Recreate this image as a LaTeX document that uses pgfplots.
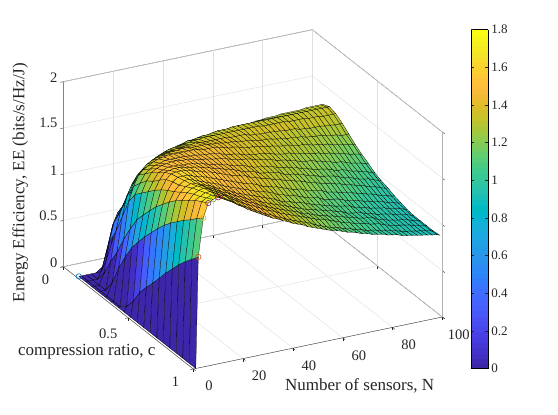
\documentclass[border=0pt]{standalone}
\usepackage{pgfplots}
\pgfplotsset{compat=1.18}
\usepackage{fontspec}
\setmainfont{Liberation Serif}
\pgfplotsset{colormap={parula}{
rgb=(0.2422,0.1504,0.6603) rgb=(0.2504,0.1650,0.7076) rgb=(0.2578,0.1818,0.7511) rgb=(0.2647,0.1978,0.7952)
rgb=(0.2706,0.2147,0.8364) rgb=(0.2751,0.2342,0.8710) rgb=(0.2783,0.2559,0.8991) rgb=(0.2803,0.2782,0.9221)
rgb=(0.2813,0.3006,0.9414) rgb=(0.2810,0.3228,0.9579) rgb=(0.2795,0.3447,0.9717) rgb=(0.2760,0.3667,0.9829)
rgb=(0.2699,0.3892,0.9906) rgb=(0.2602,0.4123,0.9952) rgb=(0.2440,0.4358,0.9988) rgb=(0.2206,0.4603,0.9973)
rgb=(0.1963,0.4847,0.9892) rgb=(0.1834,0.5074,0.9798) rgb=(0.1786,0.5289,0.9682) rgb=(0.1764,0.5499,0.9520)
rgb=(0.1687,0.5703,0.9359) rgb=(0.1540,0.5902,0.9218) rgb=(0.1460,0.6091,0.9079) rgb=(0.1380,0.6276,0.8973)
rgb=(0.1248,0.6459,0.8883) rgb=(0.1113,0.6635,0.8763) rgb=(0.0952,0.6798,0.8598) rgb=(0.0689,0.6948,0.8394)
rgb=(0.0297,0.7082,0.8163) rgb=(0.0036,0.7197,0.7917) rgb=(0.0067,0.7300,0.7660) rgb=(0.0433,0.7394,0.7394)
rgb=(0.0964,0.7500,0.7120) rgb=(0.1408,0.7584,0.6842) rgb=(0.1717,0.7670,0.6554) rgb=(0.1938,0.7758,0.6251)
rgb=(0.2161,0.7843,0.5923) rgb=(0.2470,0.7918,0.5567) rgb=(0.2906,0.7973,0.5188) rgb=(0.3406,0.8008,0.4789)
rgb=(0.3909,0.8029,0.4354) rgb=(0.4456,0.8024,0.3909) rgb=(0.5044,0.7993,0.3480) rgb=(0.5616,0.7942,0.3045)
rgb=(0.6174,0.7876,0.2612) rgb=(0.6720,0.7793,0.2227) rgb=(0.7242,0.7698,0.1910) rgb=(0.7738,0.7598,0.1646)
rgb=(0.8203,0.7498,0.1535) rgb=(0.8634,0.7406,0.1596) rgb=(0.9035,0.7330,0.1774) rgb=(0.9393,0.7288,0.2100)
rgb=(0.9728,0.7298,0.2394) rgb=(0.9956,0.7434,0.2371) rgb=(0.9970,0.7659,0.2199) rgb=(0.9952,0.7893,0.2028)
rgb=(0.9892,0.8136,0.1885) rgb=(0.9786,0.8386,0.1766) rgb=(0.9676,0.8639,0.1643) rgb=(0.9610,0.8890,0.1537)
rgb=(0.9597,0.9135,0.1423) rgb=(0.9628,0.9373,0.1265) rgb=(0.9691,0.9606,0.1064) rgb=(0.9769,0.9839,0.0805)
}}
\definecolor{axc}{gray}{0.15}
\definecolor{m1}{rgb}{0,0.447,0.741}
\definecolor{m2}{rgb}{0.85,0.325,0.098}
\definecolor{m3}{rgb}{0.929,0.694,0.125}
\definecolor{m4}{rgb}{0.494,0.184,0.556}
\definecolor{m5}{rgb}{0.466,0.674,0.188}
\definecolor{m6}{rgb}{0.635,0.078,0.184}
\begin{document}
\begin{tikzpicture}[x=1pt,y=1pt]
\path[use as bounding box] (0,0) rectangle (558,415);
\begin{axis}[
 at={(63.3pt,148.3pt)}, anchor=origin,
 x={(2.49pt,0.52pt)}, y={(-130pt,102.3pt)}, z={(0pt,92.5pt)},
 y dir=reverse,
 xmin=0,xmax=100,ymin=0,ymax=1,zmin=0,zmax=2,
 xtick={0,20,40,60,80,100}, ytick={0,0.5,1}, yticklabels={0,0.5,1}, ztick={0,0.5,1,1.5,2},
 zticklabels={0,0.5,1,1.5,2},
 xtick pos=left, ytick pos=left, ztick pos=left,
 grid=major, grid style={gray!25,line width=0.4pt},
 axis line style={axc!80,line width=0.5pt}, tick style={axc,line width=0.4pt},
 z axis line style={gray!60,line width=1pt},
 tick align=outside, major tick length=3pt,
 tick label style={text=axc,font=\fontsize{14.5}{14.5}\selectfont},
 /pgf/number format/assume math mode=true,
 xticklabel style={xshift=9pt,yshift=-6pt},
 yticklabel style={xshift=-8pt,yshift=-4pt},
 colormap name=parula, point meta min=0, point meta max=1.8,
 colormap access=piecewise constant,
 colorbar,
 colorbar style={at={(parent axis.north east)},anchor=north west,xshift=20pt,width=17pt,height=339pt,ytick={0,0.2,...,1.8},yticklabels={0,0.2,0.4,0.6,0.8,1,1.2,1.4,1.6,1.8},
   ylabel={},tick align=inside,major tick length=3pt,tick label style={font=\fontsize{13}{13}\selectfont,text=axc},/pgf/number format/assume math mode=true},
 xlabel={Number of sensors, N},ylabel={compression ratio, c},zlabel={Energy Efficiency, EE (bits/s/Hz/J)},
 label style={font=\fontsize{17}{17}\selectfont,text=axc},
 xlabel style={at={([xshift=2pt,yshift=-51pt]axis cs:66,1,0)},anchor=center,sloped=false,rotate=0},
 ylabel style={at={([yshift=-67pt]axis cs:0,0.18,0)},anchor=center,sloped=false,rotate=0},
 zlabel style={at={([xshift=-43pt]axis cs:0,0,0.91)},anchor=center,sloped=false,rotate=0},
]
\draw[axc!80,line width=0.5pt] (axis cs:0,0,0)--(axis cs:0,0,2);
\addplot3[surf,shader=flat corner,draw=black,line width=0.25pt,z buffer=sort,mesh/rows=19,mesh/cols=51] coordinates {
(1,0.1,0) (2,0.1,0) (4,0.1,0) (6,0.1,0) (8,0.1,0) (10,0.1,0) (12,0.1,0.11) (14,0.1,0.27) (16,0.1,0.42) (18,0.1,0.58) (20,0.1,0.71) (22,0.1,0.79) (24,0.1,0.86) (26,0.1,0.91) (28,0.1,0.97) (30,0.1,1.01) (32,0.1,1.04) (34,0.1,1.07) (36,0.1,1.09) (38,0.1,1.11) (40,0.1,1.13) (42,0.1,1.14) (44,0.1,1.16) (46,0.1,1.17) (48,0.1,1.19) (50,0.1,1.20) (52,0.1,1.21) (54,0.1,1.22) (56,0.1,1.23) (58,0.1,1.24) (60,0.1,1.25) (62,0.1,1.25) (64,0.1,1.26) (66,0.1,1.27) (68,0.1,1.27) (70,0.1,1.27) (72,0.1,1.28) (74,0.1,1.28) (76,0.1,1.29) (78,0.1,1.29) (80,0.1,1.29) (82,0.1,1.30) (84,0.1,1.30) (86,0.1,1.30) (88,0.1,1.30) (90,0.1,1.30) (92,0.1,1.31) (94,0.1,1.31) (96,0.1,1.31) (98,0.1,1.31) (99,0.1,1.31)
(1,0.15,0) (2,0.15,0) (4,0.15,0) (6,0.15,0) (8,0.15,0.12) (10,0.15,0.33) (12,0.15,0.55) (14,0.15,0.67) (16,0.15,0.72) (18,0.15,0.80) (20,0.15,0.88) (22,0.15,0.97) (24,0.15,1.05) (26,0.15,1.11) (28,0.15,1.16) (30,0.15,1.19) (32,0.15,1.21) (34,0.15,1.23) (36,0.15,1.24) (38,0.15,1.26) (40,0.15,1.27) (42,0.15,1.29) (44,0.15,1.29) (46,0.15,1.30) (48,0.15,1.31) (50,0.15,1.31) (52,0.15,1.32) (54,0.15,1.33) (56,0.15,1.33) (58,0.15,1.33) (60,0.15,1.34) (62,0.15,1.34) (64,0.15,1.34) (66,0.15,1.34) (68,0.15,1.34) (70,0.15,1.34) (72,0.15,1.34) (74,0.15,1.34) (76,0.15,1.34) (78,0.15,1.34) (80,0.15,1.34) (82,0.15,1.34) (84,0.15,1.34) (86,0.15,1.34) (88,0.15,1.34) (90,0.15,1.34) (92,0.15,1.34) (94,0.15,1.34) (96,0.15,1.34) (98,0.15,1.34) (99,0.15,1.34)
(1,0.2,0) (2,0.2,0) (4,0.2,0) (6,0.2,0.12) (8,0.2,0.44) (10,0.2,0.65) (12,0.2,0.74) (14,0.2,0.82) (16,0.2,0.90) (18,0.2,1.00) (20,0.2,1.07) (22,0.2,1.14) (24,0.2,1.19) (26,0.2,1.24) (28,0.2,1.26) (30,0.2,1.29) (32,0.2,1.31) (34,0.2,1.32) (36,0.2,1.32) (38,0.2,1.33) (40,0.2,1.34) (42,0.2,1.35) (44,0.2,1.35) (46,0.2,1.36) (48,0.2,1.36) (50,0.2,1.36) (52,0.2,1.36) (54,0.2,1.36) (56,0.2,1.36) (58,0.2,1.36) (60,0.2,1.36) (62,0.2,1.36) (64,0.2,1.36) (66,0.2,1.36) (68,0.2,1.36) (70,0.2,1.35) (72,0.2,1.35) (74,0.2,1.35) (76,0.2,1.35) (78,0.2,1.35) (80,0.2,1.34) (82,0.2,1.34) (84,0.2,1.34) (86,0.2,1.34) (88,0.2,1.33) (90,0.2,1.33) (92,0.2,1.33) (94,0.2,1.32) (96,0.2,1.32) (98,0.2,1.32) (99,0.2,1.32)
(1,0.25,0) (2,0.25,0) (4,0.25,0) (6,0.25,0.30) (8,0.25,0.61) (10,0.25,0.82) (12,0.25,0.93) (14,0.25,1.04) (16,0.25,1.12) (18,0.25,1.18) (20,0.25,1.23) (22,0.25,1.27) (24,0.25,1.32) (26,0.25,1.34) (28,0.25,1.35) (30,0.25,1.36) (32,0.25,1.37) (34,0.25,1.37) (36,0.25,1.38) (38,0.25,1.38) (40,0.25,1.39) (42,0.25,1.38) (44,0.25,1.38) (46,0.25,1.38) (48,0.25,1.38) (50,0.25,1.38) (52,0.25,1.38) (54,0.25,1.37) (56,0.25,1.37) (58,0.25,1.37) (60,0.25,1.37) (62,0.25,1.35) (64,0.25,1.35) (66,0.25,1.34) (68,0.25,1.34) (70,0.25,1.34) (72,0.25,1.33) (74,0.25,1.33) (76,0.25,1.32) (78,0.25,1.32) (80,0.25,1.32) (82,0.25,1.30) (84,0.25,1.30) (86,0.25,1.29) (88,0.25,1.29) (90,0.25,1.29) (92,0.25,1.28) (94,0.25,1.28) (96,0.25,1.27) (98,0.25,1.27) (99,0.25,1.27)
(1,0.3,0) (2,0.3,0) (4,0.3,0.14) (6,0.3,0.46) (8,0.3,0.83) (10,0.3,1.05) (12,0.3,1.16) (14,0.3,1.24) (16,0.3,1.29) (18,0.3,1.34) (20,0.3,1.37) (22,0.3,1.39) (24,0.3,1.40) (26,0.3,1.41) (28,0.3,1.42) (30,0.3,1.42) (32,0.3,1.43) (34,0.3,1.43) (36,0.3,1.42) (38,0.3,1.42) (40,0.3,1.42) (42,0.3,1.42) (44,0.3,1.41) (46,0.3,1.41) (48,0.3,1.40) (50,0.3,1.39) (52,0.3,1.39) (54,0.3,1.38) (56,0.3,1.37) (58,0.3,1.37) (60,0.3,1.36) (62,0.3,1.35) (64,0.3,1.34) (66,0.3,1.34) (68,0.3,1.33) (70,0.3,1.32) (72,0.3,1.31) (74,0.3,1.30) (76,0.3,1.30) (78,0.3,1.29) (80,0.3,1.29) (82,0.3,1.27) (84,0.3,1.27) (86,0.3,1.26) (88,0.3,1.26) (90,0.3,1.24) (92,0.3,1.23) (94,0.3,1.23) (96,0.3,1.21) (98,0.3,1.21) (99,0.3,1.21)
(1,0.35,0) (2,0.35,0) (4,0.35,0.35) (6,0.35,0.65) (8,0.35,1.05) (10,0.35,1.20) (12,0.35,1.31) (14,0.35,1.36) (16,0.35,1.39) (18,0.35,1.42) (20,0.35,1.44) (22,0.35,1.45) (24,0.35,1.46) (26,0.35,1.46) (28,0.35,1.46) (30,0.35,1.46) (32,0.35,1.46) (34,0.35,1.46) (36,0.35,1.45) (38,0.35,1.44) (40,0.35,1.44) (42,0.35,1.44) (44,0.35,1.43) (46,0.35,1.42) (48,0.35,1.40) (50,0.35,1.40) (52,0.35,1.39) (54,0.35,1.37) (56,0.35,1.36) (58,0.35,1.36) (60,0.35,1.35) (62,0.35,1.34) (64,0.35,1.33) (66,0.35,1.32) (68,0.35,1.31) (70,0.35,1.30) (72,0.35,1.30) (74,0.35,1.28) (76,0.35,1.27) (78,0.35,1.27) (80,0.35,1.26) (82,0.35,1.24) (84,0.35,1.24) (86,0.35,1.22) (88,0.35,1.22) (90,0.35,1.20) (92,0.35,1.19) (94,0.35,1.18) (96,0.35,1.17) (98,0.35,1.16) (99,0.35,1.15)
(1,0.4,0) (2,0.4,0) (4,0.4,0.53) (6,0.4,0.82) (8,0.4,1.18) (10,0.4,1.29) (12,0.4,1.38) (14,0.4,1.42) (16,0.4,1.45) (18,0.4,1.46) (20,0.4,1.48) (22,0.4,1.48) (24,0.4,1.48) (26,0.4,1.48) (28,0.4,1.48) (30,0.4,1.47) (32,0.4,1.47) (34,0.4,1.46) (36,0.4,1.45) (38,0.4,1.45) (40,0.4,1.44) (42,0.4,1.43) (44,0.4,1.41) (46,0.4,1.40) (48,0.4,1.39) (50,0.4,1.38) (52,0.4,1.36) (54,0.4,1.35) (56,0.4,1.34) (58,0.4,1.34) (60,0.4,1.33) (62,0.4,1.32) (64,0.4,1.30) (66,0.4,1.29) (68,0.4,1.28) (70,0.4,1.28) (72,0.4,1.26) (74,0.4,1.25) (76,0.4,1.24) (78,0.4,1.23) (80,0.4,1.22) (82,0.4,1.21) (84,0.4,1.19) (86,0.4,1.19) (88,0.4,1.17) (90,0.4,1.16) (92,0.4,1.15) (94,0.4,1.13) (96,0.4,1.12) (98,0.4,1.11) (99,0.4,1.10)
(1,0.45,0) (2,0.45,0.06) (4,0.45,0.68) (6,0.45,0.97) (8,0.45,1.25) (10,0.45,1.37) (12,0.45,1.45) (14,0.45,1.48) (16,0.45,1.50) (18,0.45,1.51) (20,0.45,1.52) (22,0.45,1.52) (24,0.45,1.51) (26,0.45,1.51) (28,0.45,1.50) (30,0.45,1.49) (32,0.45,1.48) (34,0.45,1.47) (36,0.45,1.46) (38,0.45,1.45) (40,0.45,1.44) (42,0.45,1.43) (44,0.45,1.41) (46,0.45,1.40) (48,0.45,1.39) (50,0.45,1.38) (52,0.45,1.37) (54,0.45,1.35) (56,0.45,1.34) (58,0.45,1.33) (60,0.45,1.32) (62,0.45,1.30) (64,0.45,1.29) (66,0.45,1.28) (68,0.45,1.26) (70,0.45,1.25) (72,0.45,1.23) (74,0.45,1.22) (76,0.45,1.22) (78,0.45,1.20) (80,0.45,1.19) (82,0.45,1.17) (84,0.45,1.16) (86,0.45,1.14) (88,0.45,1.14) (90,0.45,1.12) (92,0.45,1.10) (94,0.45,1.09) (96,0.45,1.08) (98,0.45,1.06) (99,0.45,1.06)
(1,0.5,0) (2,0.5,0.17) (4,0.5,0.80) (6,0.5,1.08) (8,0.5,1.32) (10,0.5,1.42) (12,0.5,1.50) (14,0.5,1.52) (16,0.5,1.54) (18,0.5,1.54) (20,0.5,1.54) (22,0.5,1.53) (24,0.5,1.53) (26,0.5,1.52) (28,0.5,1.51) (30,0.5,1.50) (32,0.5,1.48) (34,0.5,1.47) (36,0.5,1.46) (38,0.5,1.44) (40,0.5,1.43) (42,0.5,1.41) (44,0.5,1.40) (46,0.5,1.39) (48,0.5,1.37) (50,0.5,1.35) (52,0.5,1.34) (54,0.5,1.33) (56,0.5,1.32) (58,0.5,1.31) (60,0.5,1.29) (62,0.5,1.28) (64,0.5,1.27) (66,0.5,1.25) (68,0.5,1.24) (70,0.5,1.22) (72,0.5,1.21) (74,0.5,1.19) (76,0.5,1.18) (78,0.5,1.17) (80,0.5,1.16) (82,0.5,1.14) (84,0.5,1.12) (86,0.5,1.12) (88,0.5,1.10) (90,0.5,1.08) (92,0.5,1.07) (94,0.5,1.05) (96,0.5,1.04) (98,0.5,1.02) (99,0.5,1.01)
(1,0.55,0) (2,0.55,0.32) (4,0.55,0.91) (6,0.55,1.18) (8,0.55,1.39) (10,0.55,1.49) (12,0.55,1.56) (14,0.55,1.57) (16,0.55,1.58) (18,0.55,1.58) (20,0.55,1.57) (22,0.55,1.56) (24,0.55,1.55) (26,0.55,1.54) (28,0.55,1.52) (30,0.55,1.51) (32,0.55,1.49) (34,0.55,1.48) (36,0.55,1.46) (38,0.55,1.45) (40,0.55,1.43) (42,0.55,1.41) (44,0.55,1.39) (46,0.55,1.38) (48,0.55,1.37) (50,0.55,1.34) (52,0.55,1.33) (54,0.55,1.32) (56,0.55,1.31) (58,0.55,1.30) (60,0.55,1.27) (62,0.55,1.26) (64,0.55,1.25) (66,0.55,1.23) (68,0.55,1.22) (70,0.55,1.20) (72,0.55,1.19) (74,0.55,1.17) (76,0.55,1.16) (78,0.55,1.15) (80,0.55,1.14) (82,0.55,1.12) (84,0.55,1.10) (86,0.55,1.09) (88,0.55,1.07) (90,0.55,1.05) (92,0.55,1.04) (94,0.55,1.03) (96,0.55,1.01) (98,0.55,0.99) (99,0.55,0.98)
(1,0.6,0) (2,0.6,0.43) (4,0.6,1.01) (6,0.6,1.28) (8,0.6,1.45) (10,0.6,1.55) (12,0.6,1.60) (14,0.6,1.61) (16,0.6,1.61) (18,0.6,1.60) (20,0.6,1.59) (22,0.6,1.57) (24,0.6,1.56) (26,0.6,1.54) (28,0.6,1.53) (30,0.6,1.51) (32,0.6,1.49) (34,0.6,1.47) (36,0.6,1.45) (38,0.6,1.44) (40,0.6,1.42) (42,0.6,1.41) (44,0.6,1.38) (46,0.6,1.37) (48,0.6,1.35) (50,0.6,1.34) (52,0.6,1.32) (54,0.6,1.30) (56,0.6,1.29) (58,0.6,1.27) (60,0.6,1.26) (62,0.6,1.24) (64,0.6,1.23) (66,0.6,1.21) (68,0.6,1.19) (70,0.6,1.18) (72,0.6,1.16) (74,0.6,1.15) (76,0.6,1.14) (78,0.6,1.12) (80,0.6,1.11) (82,0.6,1.09) (84,0.6,1.08) (86,0.6,1.06) (88,0.6,1.05) (90,0.6,1.03) (92,0.6,1.01) (94,0.6,1.00) (96,0.6,0.98) (98,0.6,0.96) (99,0.6,0.96)
(1,0.65,0) (2,0.65,0.53) (4,0.65,1.11) (6,0.65,1.36) (8,0.65,1.50) (10,0.65,1.58) (12,0.65,1.62) (14,0.65,1.62) (16,0.65,1.62) (18,0.65,1.60) (20,0.65,1.58) (22,0.65,1.57) (24,0.65,1.55) (26,0.65,1.53) (28,0.65,1.51) (30,0.65,1.49) (32,0.65,1.47) (34,0.65,1.45) (36,0.65,1.43) (38,0.65,1.41) (40,0.65,1.39) (42,0.65,1.38) (44,0.65,1.36) (46,0.65,1.33) (48,0.65,1.32) (50,0.65,1.30) (52,0.65,1.29) (54,0.65,1.27) (56,0.65,1.25) (58,0.65,1.23) (60,0.65,1.22) (62,0.65,1.21) (64,0.65,1.18) (66,0.65,1.17) (68,0.65,1.16) (70,0.65,1.15) (72,0.65,1.12) (74,0.65,1.11) (76,0.65,1.10) (78,0.65,1.08) (80,0.65,1.07) (82,0.65,1.06) (84,0.65,1.04) (86,0.65,1.03) (88,0.65,1.01) (90,0.65,1.00) (92,0.65,0.98) (94,0.65,0.96) (96,0.65,0.95) (98,0.65,0.93) (99,0.65,0.93)
(1,0.7,0) (2,0.7,0.64) (4,0.7,1.20) (6,0.7,1.44) (8,0.7,1.54) (10,0.7,1.60) (12,0.7,1.64) (14,0.7,1.64) (16,0.7,1.62) (18,0.7,1.60) (20,0.7,1.58) (22,0.7,1.56) (24,0.7,1.54) (26,0.7,1.52) (28,0.7,1.49) (30,0.7,1.47) (32,0.7,1.45) (34,0.7,1.43) (36,0.7,1.41) (38,0.7,1.39) (40,0.7,1.37) (42,0.7,1.35) (44,0.7,1.34) (46,0.7,1.32) (48,0.7,1.30) (50,0.7,1.27) (52,0.7,1.26) (54,0.7,1.24) (56,0.7,1.23) (58,0.7,1.21) (60,0.7,1.19) (62,0.7,1.17) (64,0.7,1.16) (66,0.7,1.15) (68,0.7,1.12) (70,0.7,1.11) (72,0.7,1.10) (74,0.7,1.09) (76,0.7,1.07) (78,0.7,1.05) (80,0.7,1.04) (82,0.7,1.03) (84,0.7,1.01) (86,0.7,1.00) (88,0.7,0.98) (90,0.7,0.97) (92,0.7,0.96) (94,0.7,0.94) (96,0.7,0.93) (98,0.7,0.91) (99,0.7,0.91)
(1,0.75,0) (2,0.75,0.75) (4,0.75,1.28) (6,0.75,1.51) (8,0.75,1.59) (10,0.75,1.64) (12,0.75,1.66) (14,0.75,1.65) (16,0.75,1.63) (18,0.75,1.61) (20,0.75,1.59) (22,0.75,1.56) (24,0.75,1.54) (26,0.75,1.51) (28,0.75,1.49) (30,0.75,1.46) (32,0.75,1.44) (34,0.75,1.42) (36,0.75,1.40) (38,0.75,1.38) (40,0.75,1.36) (42,0.75,1.34) (44,0.75,1.32) (46,0.75,1.30) (48,0.75,1.27) (50,0.75,1.25) (52,0.75,1.24) (54,0.75,1.22) (56,0.75,1.21) (58,0.75,1.19) (60,0.75,1.17) (62,0.75,1.15) (64,0.75,1.14) (66,0.75,1.12) (68,0.75,1.11) (70,0.75,1.09) (72,0.75,1.08) (74,0.75,1.07) (76,0.75,1.06) (78,0.75,1.03) (80,0.75,1.02) (82,0.75,1.01) (84,0.75,0.99) (86,0.75,0.98) (88,0.75,0.97) (90,0.75,0.96) (92,0.75,0.94) (94,0.75,0.93) (96,0.75,0.92) (98,0.75,0.90) (99,0.75,0.89)
(1,0.8,0) (2,0.8,0.85) (4,0.8,1.35) (6,0.8,1.57) (8,0.8,1.64) (10,0.8,1.68) (12,0.8,1.69) (14,0.8,1.68) (16,0.8,1.65) (18,0.8,1.63) (20,0.8,1.60) (22,0.8,1.57) (24,0.8,1.55) (26,0.8,1.52) (28,0.8,1.49) (30,0.8,1.47) (32,0.8,1.44) (34,0.8,1.42) (36,0.8,1.40) (38,0.8,1.37) (40,0.8,1.35) (42,0.8,1.33) (44,0.8,1.31) (46,0.8,1.29) (48,0.8,1.27) (50,0.8,1.25) (52,0.8,1.23) (54,0.8,1.21) (56,0.8,1.19) (58,0.8,1.18) (60,0.8,1.16) (62,0.8,1.15) (64,0.8,1.13) (66,0.8,1.12) (68,0.8,1.10) (70,0.8,1.09) (72,0.8,1.06) (74,0.8,1.05) (76,0.8,1.04) (78,0.8,1.03) (80,0.8,1.01) (82,0.8,1.00) (84,0.8,0.98) (86,0.8,0.97) (88,0.8,0.96) (90,0.8,0.95) (92,0.8,0.93) (94,0.8,0.92) (96,0.8,0.91) (98,0.8,0.89) (99,0.8,0.88)
(1,0.85,0) (2,0.85,0.95) (4,0.85,1.42) (6,0.85,1.62) (8,0.85,1.68) (10,0.85,1.71) (12,0.85,1.72) (14,0.85,1.70) (16,0.85,1.67) (18,0.85,1.64) (20,0.85,1.61) (22,0.85,1.58) (24,0.85,1.55) (26,0.85,1.52) (28,0.85,1.50) (30,0.85,1.47) (32,0.85,1.45) (34,0.85,1.42) (36,0.85,1.40) (38,0.85,1.37) (40,0.85,1.35) (42,0.85,1.33) (44,0.85,1.31) (46,0.85,1.29) (48,0.85,1.27) (50,0.85,1.25) (52,0.85,1.22) (54,0.85,1.21) (56,0.85,1.19) (58,0.85,1.17) (60,0.85,1.16) (62,0.85,1.14) (64,0.85,1.13) (66,0.85,1.11) (68,0.85,1.10) (70,0.85,1.08) (72,0.85,1.07) (74,0.85,1.05) (76,0.85,1.04) (78,0.85,1.03) (80,0.85,1.02) (82,0.85,0.99) (84,0.85,0.98) (86,0.85,0.96) (88,0.85,0.95) (90,0.85,0.94) (92,0.85,0.93) (94,0.85,0.92) (96,0.85,0.90) (98,0.85,0.89) (99,0.85,0.88)
(1,0.9,0) (2,0.9,1.04) (4,0.9,1.48) (6,0.9,1.68) (8,0.9,1.71) (10,0.9,1.74) (12,0.9,1.74) (14,0.9,1.71) (16,0.9,1.68) (18,0.9,1.66) (20,0.9,1.62) (22,0.9,1.59) (24,0.9,1.56) (26,0.9,1.53) (28,0.9,1.50) (30,0.9,1.48) (32,0.9,1.45) (34,0.9,1.42) (36,0.9,1.40) (38,0.9,1.38) (40,0.9,1.35) (42,0.9,1.33) (44,0.9,1.31) (46,0.9,1.29) (48,0.9,1.27) (50,0.9,1.25) (52,0.9,1.23) (54,0.9,1.21) (56,0.9,1.19) (58,0.9,1.18) (60,0.9,1.16) (62,0.9,1.14) (64,0.9,1.12) (66,0.9,1.10) (68,0.9,1.09) (70,0.9,1.07) (72,0.9,1.06) (74,0.9,1.05) (76,0.9,1.03) (78,0.9,1.02) (80,0.9,1.01) (82,0.9,0.99) (84,0.9,0.97) (86,0.9,0.96) (88,0.9,0.95) (90,0.9,0.94) (92,0.9,0.93) (94,0.9,0.91) (96,0.9,0.90) (98,0.9,0.89) (99,0.9,0.88)
(1,0.95,0) (2,0.95,1.12) (4,0.95,1.55) (6,0.95,1.72) (8,0.95,1.75) (10,0.95,1.77) (12,0.95,1.75) (14,0.95,1.72) (16,0.95,1.69) (18,0.95,1.66) (20,0.95,1.62) (22,0.95,1.59) (24,0.95,1.56) (26,0.95,1.53) (28,0.95,1.50) (30,0.95,1.47) (32,0.95,1.44) (34,0.95,1.42) (36,0.95,1.39) (38,0.95,1.37) (40,0.95,1.34) (42,0.95,1.32) (44,0.95,1.30) (46,0.95,1.28) (48,0.95,1.26) (50,0.95,1.24) (52,0.95,1.21) (54,0.95,1.19) (56,0.95,1.17) (58,0.95,1.15) (60,0.95,1.14) (62,0.95,1.12) (64,0.95,1.10) (66,0.95,1.09) (68,0.95,1.07) (70,0.95,1.06) (72,0.95,1.04) (74,0.95,1.03) (76,0.95,1.02) (78,0.95,1.00) (80,0.95,0.99) (82,0.95,0.98) (84,0.95,0.97) (86,0.95,0.95) (88,0.95,0.94) (90,0.95,0.93) (92,0.95,0.92) (94,0.95,0.91) (96,0.95,0.90) (98,0.95,0.89) (99,0.95,0.88)
(1,1,0) (2,1,1.20) (4,1,1.61) (6,1,1.76) (8,1,1.79) (10,1,1.80) (12,1,1.77) (14,1,1.74) (16,1,1.71) (18,1,1.67) (20,1,1.64) (22,1,1.60) (24,1,1.57) (26,1,1.54) (28,1,1.51) (30,1,1.48) (32,1,1.45) (34,1,1.43) (36,1,1.40) (38,1,1.38) (40,1,1.35) (42,1,1.33) (44,1,1.31) (46,1,1.28) (48,1,1.26) (50,1,1.24) (52,1,1.22) (54,1,1.20) (56,1,1.18) (58,1,1.17) (60,1,1.15) (62,1,1.13) (64,1,1.12) (66,1,1.10) (68,1,1.08) (70,1,1.07) (72,1,1.05) (74,1,1.04) (76,1,1.03) (78,1,1.01) (80,1,1.00) (82,1,0.99) (84,1,0.97) (86,1,0.96) (88,1,0.95) (90,1,0.94) (92,1,0.93) (94,1,0.92) (96,1,0.91) (98,1,0.90) (99,1,0.89)
};
\addplot3[only marks,mark=o,mark size=2.7pt,color=m1,mark options={line width=0.6pt}] coordinates {(1,0.1,0)};
\addplot3[only marks,mark=o,mark size=2.7pt,color=m2,mark options={line width=0.6pt}] coordinates {(2,1,1.20)};
\addplot3[only marks,mark=o,mark size=2.7pt,color=m3,mark options={line width=0.6pt}] coordinates {(4,1,1.61)};
\addplot3[only marks,mark=o,mark size=2.7pt,color=m4,mark options={line width=0.6pt}] coordinates {(6,1,1.76)};
\addplot3[only marks,mark=o,mark size=2.7pt,color=m5,mark options={line width=0.6pt}] coordinates {(8,1,1.79)};
\addplot3[only marks,mark=o,mark size=2.7pt,color=m6,mark options={line width=0.6pt}] coordinates {(10,1,1.80)};
\end{axis}
\end{tikzpicture}
\end{document}
